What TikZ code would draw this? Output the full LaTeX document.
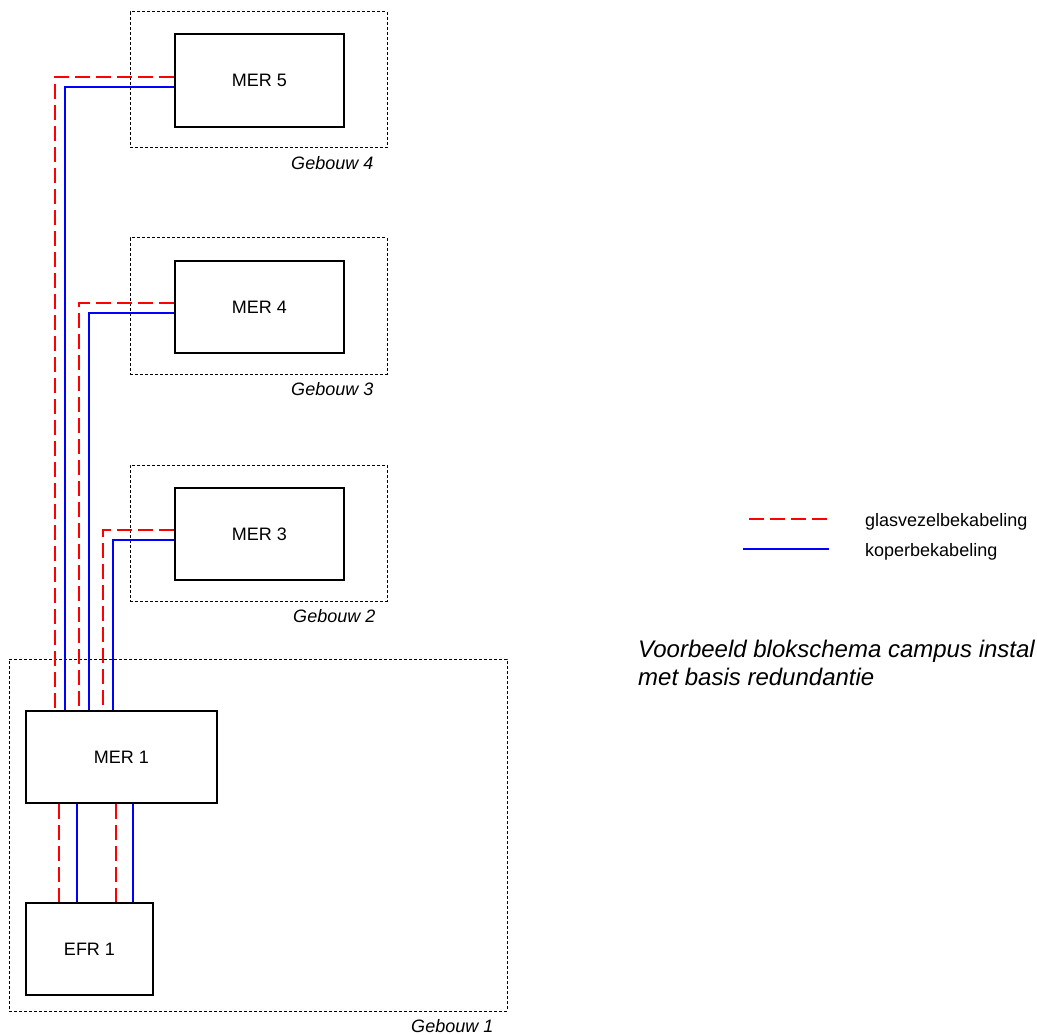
\documentclass[tikz,border=0pt]{standalone}
\usepackage{fontspec}
\setmainfont{Liberation Sans}
\usepackage{tikz}

\begin{document}
\begin{tikzpicture}[x=1pt,y=-1pt,
  mer/.style={draw,line width=2pt,inner sep=0pt,font=\fontsize{18}{22}\selectfont},
  gebouw/.style={draw,line width=1pt,dash pattern=on 3pt off 2pt,inner sep=0pt},
  geblabel/.style={anchor=north east,inner sep=0pt,font=\fontsize{18}{22}\selectfont\itshape},
  glas/.style={red,line width=2pt,dash pattern=on 15pt off 6pt},
  koper/.style={blue,line width=2pt}]
\useasboundingbox (0,0) rectangle (1037,1035);
% gebouwen
\node[gebouw,minimum width=257pt,minimum height=136pt] (geb4) at (258.5,80) {};
\node[gebouw,minimum width=257pt,minimum height=136pt] (geb3) at (258.5,306) {};
\node[gebouw,minimum width=257pt,minimum height=136pt] (geb2) at (258.5,533) {};
\node[gebouw,minimum width=498pt,minimum height=352pt] (geb1) at (258,835) {};
\node[geblabel] at ([xshift=-14pt,yshift=-8pt]geb4.south east) {Gebouw 4};
\node[geblabel] at ([xshift=-14pt,yshift=-8pt]geb3.south east) {Gebouw 3};
\node[geblabel] at ([xshift=-12pt,yshift=-8pt]geb2.south east) {Gebouw 2};
\node[geblabel] at ([xshift=-14pt,yshift=-8pt]geb1.south east) {Gebouw 1};
% ruimtes
\node[mer,minimum width=169pt,minimum height=93pt] (mer5) at (259.5,80.5) {MER 5};
\node[mer,minimum width=169pt,minimum height=92pt] (mer4) at (259.5,307) {MER 4};
\node[mer,minimum width=169pt,minimum height=92pt] (mer3) at (259.5,534) {MER 3};
\node[mer,minimum width=191pt,minimum height=92pt] (mer1) at (121.5,757) {MER 1};
\node[mer,minimum width=127pt,minimum height=92pt] (efr1) at (89.5,949) {EFR 1};
% bekabeling
\draw[glas] ([yshift=3.5pt]mer5.west) -| ([xshift=30pt]mer1.north west);
\draw[koper] ([yshift=-6.5pt]mer5.west) -| ([xshift=40pt]mer1.north west);
\draw[glas] ([yshift=4pt]mer4.west) -| ([xshift=54pt]mer1.north west);
\draw[koper] ([yshift=-6pt]mer4.west) -| ([xshift=64pt]mer1.north west);
\draw[glas] ([yshift=4pt]mer3.west) -| ([xshift=78pt]mer1.north west);
\draw[koper] ([yshift=-6pt]mer3.west) -| ([xshift=88pt]mer1.north west);
\draw[glas] ([xshift=34pt]mer1.south west) -- ([xshift=34pt]efr1.north west);
\draw[koper] ([xshift=52pt]mer1.south west) -- ([xshift=52pt]efr1.north west);
\draw[glas] ([xshift=91pt]mer1.south west) -- ([xshift=91pt]efr1.north west);
\draw[koper] ([xshift=108pt]mer1.south west) -- ([xshift=108pt]efr1.north west);
% legenda
\coordinate (lg1) at (749,519);
\coordinate (lg2) at (829,519);
\coordinate (lk1) at (743,549);
\coordinate (lk2) at (829,549);
\draw[glas] (lg1) -- (lg2);
\draw[koper] (lk1) -- (lk2);
\node[anchor=base west,inner sep=0pt,font=\fontsize{18}{22}\selectfont] (glastxt) at (865,526) {glasvezelbekabeling};
\node[anchor=base west,inner sep=0pt,font=\fontsize{18}{22}\selectfont] (kopertxt) at (865,556) {koperbekabeling};
\node[anchor=base west,inner sep=0pt,font=\fontsize{24}{28}\selectfont\itshape] (titel1) at (638,657) {Voorbeeld blokschema campus instal};
\node[anchor=base west,inner sep=0pt,font=\fontsize{24}{28}\selectfont\itshape] (titel2) at (638,685) {met basis redundantie};
\end{tikzpicture}
\end{document}
